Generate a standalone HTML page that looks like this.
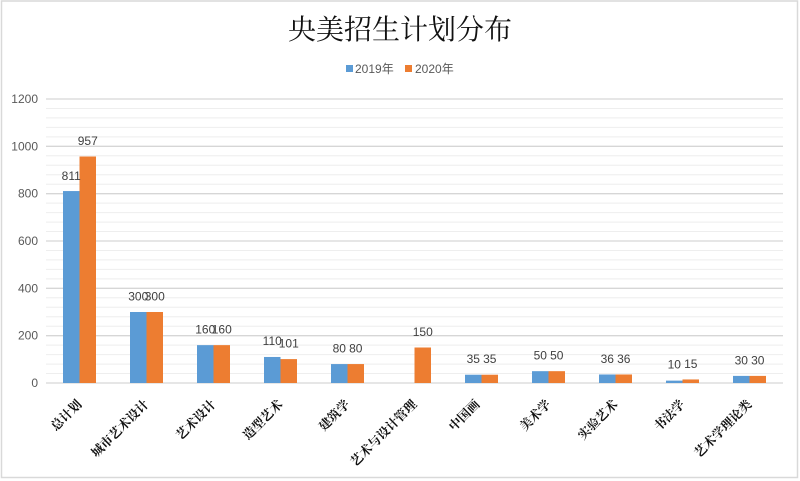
<!DOCTYPE html>
<html><head><meta charset="utf-8"><style>
html,body{margin:0;padding:0;background:#fff;}
svg{display:block;}
</style></head><body>
<svg width="800" height="481" viewBox="0 0 800 481" xmlns="http://www.w3.org/2000/svg">
<rect x="0" y="0" width="800" height="481" fill="#fff"/>
<rect x="1.5" y="1" width="796" height="476.5" fill="none" stroke="#d9d9d9" stroke-width="1.5"/>
<text x="400" y="39" text-anchor="middle" font-family="'Liberation Serif','Noto Serif CJK SC',serif" font-size="28" fill="#111">央美招生计划分布</text>
<rect x="346" y="65" width="7" height="7" fill="#5b9bd5"/>
<text x="355" y="73" font-family="'Liberation Sans','Noto Sans CJK SC',sans-serif" font-size="12" fill="#595959">2019年</text>
<rect x="405" y="65" width="7" height="7" fill="#ed7d31"/>
<text x="415" y="73" font-family="'Liberation Sans','Noto Sans CJK SC',sans-serif" font-size="12" fill="#595959">2020年</text>
<g stroke="#eeeeee" stroke-width="1">
<line x1="46" x2="783" y1="108.47" y2="108.47"/><line x1="46" x2="783" y1="117.93" y2="117.93"/><line x1="46" x2="783" y1="127.4" y2="127.4"/><line x1="46" x2="783" y1="136.87" y2="136.87"/>
<line x1="46" x2="783" y1="155.8" y2="155.8"/><line x1="46" x2="783" y1="165.27" y2="165.27"/><line x1="46" x2="783" y1="174.73" y2="174.73"/><line x1="46" x2="783" y1="184.2" y2="184.2"/>
<line x1="46" x2="783" y1="203.13" y2="203.13"/><line x1="46" x2="783" y1="212.6" y2="212.6"/><line x1="46" x2="783" y1="222.07" y2="222.07"/><line x1="46" x2="783" y1="231.53" y2="231.53"/>
<line x1="46" x2="783" y1="250.47" y2="250.47"/><line x1="46" x2="783" y1="259.93" y2="259.93"/><line x1="46" x2="783" y1="269.4" y2="269.4"/><line x1="46" x2="783" y1="278.87" y2="278.87"/>
<line x1="46" x2="783" y1="297.8" y2="297.8"/><line x1="46" x2="783" y1="307.27" y2="307.27"/><line x1="46" x2="783" y1="316.73" y2="316.73"/><line x1="46" x2="783" y1="326.2" y2="326.2"/>
<line x1="46" x2="783" y1="345.13" y2="345.13"/><line x1="46" x2="783" y1="354.6" y2="354.6"/><line x1="46" x2="783" y1="364.07" y2="364.07"/><line x1="46" x2="783" y1="373.53" y2="373.53"/>
</g>
<g stroke="#d6d6d6" stroke-width="1.3">
<line x1="46" x2="783" y1="99" y2="99"/>
<line x1="46" x2="783" y1="146.33" y2="146.33"/>
<line x1="46" x2="783" y1="193.67" y2="193.67"/>
<line x1="46" x2="783" y1="241" y2="241"/>
<line x1="46" x2="783" y1="288.33" y2="288.33"/>
<line x1="46" x2="783" y1="335.67" y2="335.67"/>
<line x1="46" x2="783" y1="383" y2="383"/>
</g>
<g font-family="'Liberation Sans',sans-serif" font-size="12" fill="#595959" text-anchor="end">
<text x="38" y="103">1200</text>
<text x="38" y="150.3">1000</text>
<text x="38" y="197.7">800</text>
<text x="38" y="245">600</text>
<text x="38" y="292.3">400</text>
<text x="38" y="339.7">200</text>
<text x="38" y="387">0</text>
</g>
<g fill="#5b9bd5">
<rect x="63" y="191.06" width="16.5" height="191.94"/>
<rect x="130" y="312" width="16.5" height="71"/>
<rect x="197" y="345.13" width="16.5" height="37.87"/>
<rect x="264" y="356.97" width="16.5" height="26.03"/>
<rect x="331" y="364.07" width="16.5" height="18.93"/>
<rect x="465" y="374.72" width="16.5" height="8.28"/>
<rect x="532" y="371.17" width="16.5" height="11.83"/>
<rect x="599" y="374.48" width="16.5" height="8.52"/>
<rect x="666" y="380.63" width="16.5" height="2.37"/>
<rect x="733" y="375.9" width="16.5" height="7.1"/>
</g>
<g fill="#ed7d31">
<rect x="79.5" y="156.51" width="16.5" height="226.49"/>
<rect x="146.5" y="312" width="16.5" height="71"/>
<rect x="213.5" y="345.13" width="16.5" height="37.87"/>
<rect x="280.5" y="359.1" width="16.5" height="23.9"/>
<rect x="347.5" y="364.07" width="16.5" height="18.93"/>
<rect x="414.5" y="347.5" width="16.5" height="35.5"/>
<rect x="481.5" y="374.72" width="16.5" height="8.28"/>
<rect x="548.5" y="371.17" width="16.5" height="11.83"/>
<rect x="615.5" y="374.48" width="16.5" height="8.52"/>
<rect x="682.5" y="379.45" width="16.5" height="3.55"/>
<rect x="749.5" y="375.9" width="16.5" height="7.1"/>
</g>
<g font-family="'Liberation Sans',sans-serif" font-size="12" fill="#404040" text-anchor="middle">
<text x="71.25" y="180">811</text><text x="87.75" y="145">957</text>
<text x="138.25" y="300.5">300</text><text x="154.75" y="300.5">300</text>
<text x="205.25" y="333.6">160</text><text x="221.75" y="333.6">160</text>
<text x="272.25" y="345">110</text><text x="288.75" y="347.6">101</text>
<text x="339.25" y="352.5">80</text><text x="355.75" y="352.5">80</text>
<text x="422.75" y="336">150</text>
<text x="473.25" y="363.2">35</text><text x="489.75" y="363.2">35</text>
<text x="540.25" y="359.7">50</text><text x="556.75" y="359.7">50</text>
<text x="607.25" y="363">36</text><text x="623.75" y="363">36</text>
<text x="674.25" y="368.5">10</text><text x="690.75" y="368">15</text>
<text x="741.25" y="364.4">30</text><text x="757.75" y="364.4">30</text>
</g>
<g font-family="'Liberation Serif','Noto Serif CJK SC',serif" font-size="12.5" font-weight="bold" fill="#111" text-anchor="end">
<text transform="translate(82.5,405) rotate(-45)">总计划</text>
<text transform="translate(149.5,405) rotate(-45)">城市艺术设计</text>
<text transform="translate(216.5,405) rotate(-45)">艺术设计</text>
<text transform="translate(283.5,405) rotate(-45)">造型艺术</text>
<text transform="translate(350.5,405) rotate(-45)">建筑学</text>
<text transform="translate(417.5,405) rotate(-45)">艺术与设计管理</text>
<text transform="translate(480.5,405) rotate(-45)">中国画</text>
<text transform="translate(551.5,405) rotate(-45)">美术学</text>
<text transform="translate(618.5,405) rotate(-45)">实验艺术</text>
<text transform="translate(685.5,405) rotate(-45)">书法学</text>
<text transform="translate(752.5,405) rotate(-45)">艺术学理论类</text>
</g>
</svg>
</body></html>
